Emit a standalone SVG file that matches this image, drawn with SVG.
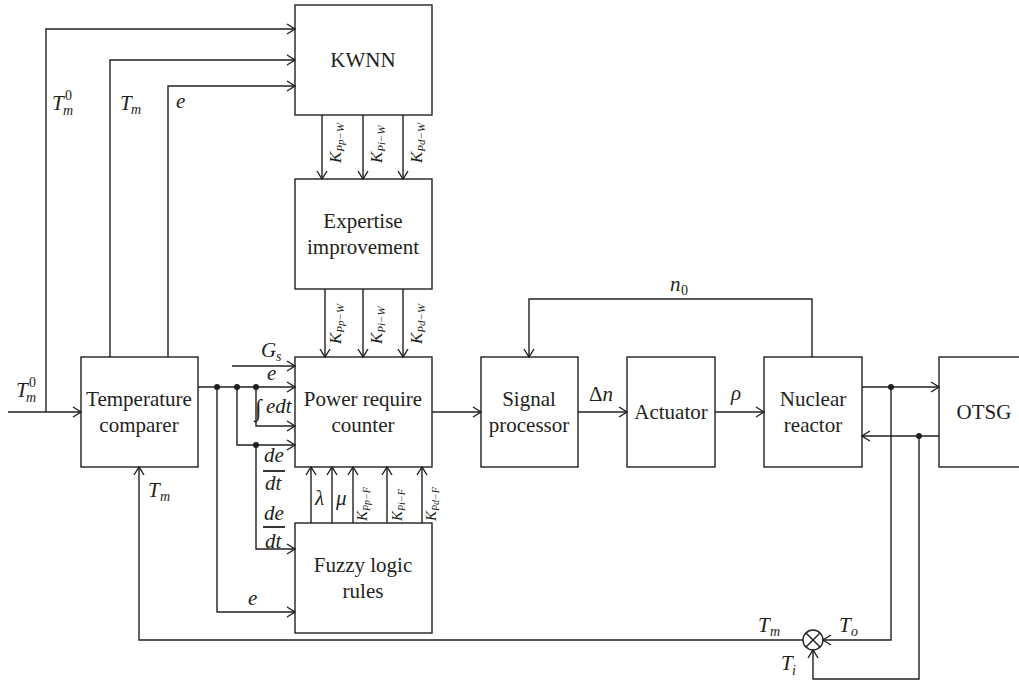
<svg xmlns="http://www.w3.org/2000/svg" width="1019" height="682" viewBox="0 0 1019 682" font-family="'Liberation Serif', 'Times New Roman', Tinos, 'DejaVu Serif', serif">
<style>
.bx{fill:none;stroke:#231f20;stroke-width:1.4}
.ln{fill:none;stroke:#231f20;stroke-width:1.4}
.ar{fill:none;stroke:#231f20;stroke-width:1.4;marker-end:url(#a)}
.t{font-family:'Liberation Serif','Times New Roman',Tinos,'DejaVu Serif',serif;font-size:21px;fill:#231f20;text-anchor:middle}
.mi{font-family:'Liberation Serif','Times New Roman',Tinos,'DejaVu Serif',serif;font-style:italic;font-size:21px;fill:#231f20}
.up{font-style:normal}
.sb{font-size:14px}
.k{font-size:17px}
.ks{font-size:11px}
.kf{font-size:15px}
.kfs{font-size:10px}
.dot{fill:#231f20}
</style>
<defs>
<marker id="a" viewBox="0 0 12 12" markerWidth="12" markerHeight="12" refX="11" refY="6" orient="auto" markerUnits="userSpaceOnUse">
<path d="M3,1 L11,6 L3,11" fill="none" stroke="#231f20" stroke-width="1.4"/>
</marker>
</defs>

<g id="connectors">
<polyline class="ar" points="46,412 46,29 295,29"/>
<polyline class="ar" points="110,357 110,60 295,60"/>
<polyline class="ar" points="168,357 168,86 295,86"/>
<line class="ar" x1="8" y1="412" x2="81" y2="412"/>
<line class="ar" x1="322" y1="115" x2="322" y2="179"/>
<line class="ar" x1="363" y1="115" x2="363" y2="179"/>
<line class="ar" x1="403" y1="115" x2="403" y2="179"/>
<line class="ar" x1="325" y1="289" x2="325" y2="357"/>
<line class="ar" x1="363" y1="289" x2="363" y2="357"/>
<line class="ar" x1="403" y1="289" x2="403" y2="357"/>
<line class="ar" x1="232" y1="366" x2="295" y2="366"/>
<line class="ar" x1="198" y1="387" x2="295" y2="387"/>
<polyline class="ar" points="256,387 256,426 295,426"/>
<polyline class="ar" points="237,387 237,445 295,445"/>
<polyline class="ar" points="256,445 256,549 295,549"/>
<polyline class="ar" points="217,387 217,612 295,612"/>
<circle class="dot" cx="217" cy="387" r="3"/>
<circle class="dot" cx="237" cy="387" r="3"/>
<circle class="dot" cx="256" cy="387" r="3"/>
<circle class="dot" cx="256" cy="445" r="3"/>
<line class="ar" x1="311" y1="523" x2="311" y2="467"/>
<line class="ar" x1="332" y1="523" x2="332" y2="467"/>
<line class="ar" x1="353" y1="523" x2="353" y2="467"/>
<line class="ar" x1="387" y1="523" x2="387" y2="467"/>
<line class="ar" x1="422" y1="523" x2="422" y2="467"/>
<line class="ar" x1="432" y1="412" x2="481" y2="412"/>
<line class="ar" x1="578" y1="412" x2="627" y2="412"/>
<line class="ar" x1="715" y1="412" x2="764" y2="412"/>
<polyline class="ar" points="812,357 812,299 529,299 529,357"/>
<line class="ar" x1="862" y1="387" x2="939" y2="387"/>
<line class="ar" x1="939" y1="436" x2="862" y2="436"/>
<circle class="dot" cx="891" cy="387" r="3"/>
<circle class="dot" cx="919" cy="436" r="3"/>
<polyline class="ar" points="891,387 891,640 823,640"/>
<polyline class="ar" points="919,436 919,679 813,679 813,650"/>
<polyline class="ar" points="803,640 139,640 139,467"/>
<circle class="ln" cx="813" cy="640" r="10"/>
<line class="ln" x1="806" y1="633" x2="820" y2="647"/>
<line class="ln" x1="820" y1="633" x2="806" y2="647"/>
</g>

<g id="kwnn">
<rect class="bx" x="295" y="5" width="137" height="110"/>
<text class="t" x="363" y="67">KWNN</text>
</g>
<g id="expertise">
<rect class="bx" x="295" y="179" width="137" height="110"/>
<text class="t" x="363" y="228">Expertise</text>
<text class="t" x="363" y="254">improvement</text>
</g>
<g id="power">
<rect class="bx" x="295" y="357" width="137" height="110"/>
<text class="t" x="363" y="406">Power require</text>
<text class="t" x="363" y="432">counter</text>
</g>
<g id="fuzzy">
<rect class="bx" x="295" y="523" width="137" height="110"/>
<text class="t" x="363" y="572">Fuzzy logic</text>
<text class="t" x="363" y="598">rules</text>
</g>
<g id="comparer">
<rect class="bx" x="81" y="357" width="117" height="110"/>
<text class="t" x="139" y="406">Temperature</text>
<text class="t" x="139" y="432">comparer</text>
</g>
<g id="signal">
<rect class="bx" x="481" y="357" width="97" height="110"/>
<text class="t" x="529" y="406">Signal</text>
<text class="t" x="529" y="432">processor</text>
</g>
<g id="actuator">
<rect class="bx" x="627" y="357" width="88" height="110"/>
<text class="t" x="671" y="419">Actuator</text>
</g>
<g id="reactor">
<rect class="bx" x="764" y="357" width="98" height="110"/>
<text class="t" x="813" y="406">Nuclear</text>
<text class="t" x="813" y="432">reactor</text>
</g>
<g id="otsg">
<rect class="bx" x="939" y="357" width="100" height="110"/>
<text class="t" x="984" y="419">OTSG</text>
</g>

<g id="labels">
<text class="mi" x="52" y="110">T</text><text class="mi up sb" x="65" y="100">0</text><text class="mi sb" x="63" y="115">m</text>
<text class="mi" x="120" y="110">T</text><text class="mi sb" x="131" y="114">m</text>
<text class="mi" x="176" y="108">e</text>
<text class="mi" x="16" y="397">T</text><text class="mi up sb" x="29" y="387">0</text><text class="mi sb" x="26" y="402">m</text>
<text class="mi" x="148" y="497">T</text><text class="mi sb" x="160" y="501">m</text>
<text class="mi k" transform="translate(341,163) rotate(-90)">K<tspan class="ks" dy="3">Pp−W</tspan></text>
<text class="mi k" transform="translate(382,163) rotate(-90)">K<tspan class="ks" dy="3">Pi−W</tspan></text>
<text class="mi k" transform="translate(422,163) rotate(-90)">K<tspan class="ks" dy="3">Pd−W</tspan></text>
<text class="mi k" transform="translate(341,344) rotate(-90)">K<tspan class="ks" dy="3">Pp−W</tspan></text>
<text class="mi k" transform="translate(382,344) rotate(-90)">K<tspan class="ks" dy="3">Pi−W</tspan></text>
<text class="mi k" transform="translate(422,344) rotate(-90)">K<tspan class="ks" dy="3">Pd−W</tspan></text>
<text class="mi" x="315" y="505">λ</text>
<text class="mi" x="336" y="505">μ</text>
<text class="mi kf" transform="translate(367,521) rotate(-90)">K<tspan class="kfs" dy="3">Pp−F</tspan></text>
<text class="mi kf" transform="translate(402,521) rotate(-90)">K<tspan class="kfs" dy="3">Pi−F</tspan></text>
<text class="mi kf" transform="translate(436,521) rotate(-90)">K<tspan class="kfs" dy="3">Pd−F</tspan></text>
<text class="mi" x="261" y="357">G</text><text class="mi sb" x="276" y="361">s</text>
<text class="mi" x="267" y="380">e</text>
<text class="mi" x="255" y="416" style="font-size:24px">∫</text><text class="mi" x="266" y="413">edt</text>
<text class="mi" x="264" y="462">de</text>
<line class="ln" x1="263" y1="471" x2="285" y2="471" style="stroke-width:1.8"/>
<text class="mi" x="265" y="490">dt</text>
<text class="mi" x="264" y="520">de</text>
<line class="ln" x1="263" y1="527" x2="285" y2="527" style="stroke-width:1.8"/>
<text class="mi" x="265" y="548">dt</text>
<text class="mi" x="248" y="605">e</text>
<text class="mi" x="670" y="291">n</text><text class="mi up sb" x="681" y="295">0</text>
<text class="mi" x="589" y="401"><tspan class="up">Δ</tspan>n</text>
<text class="mi" x="731" y="400">ρ</text>
<text class="mi" x="758" y="632">T</text><text class="mi sb" x="770" y="636">m</text>
<text class="mi" x="839" y="632">T</text><text class="mi sb" x="851" y="636">o</text>
<text class="mi" x="781" y="670">T</text><text class="mi sb" x="792" y="675">i</text>
</g>
</svg>
